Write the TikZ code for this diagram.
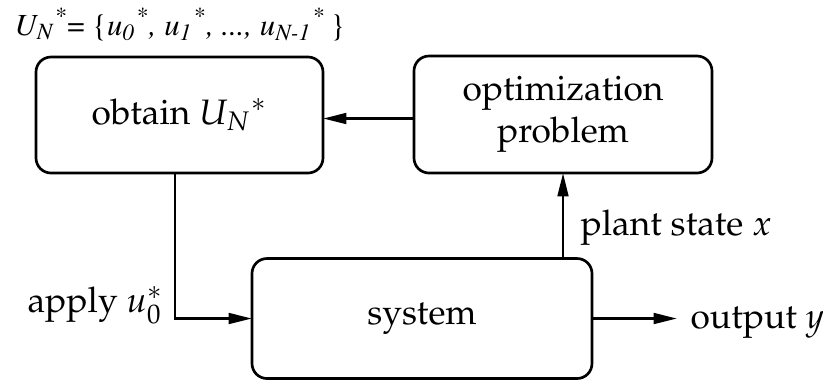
\documentclass[tikz,border=0pt]{standalone}
\usepackage[T1]{fontenc}
\usepackage{mathpazo}
\usetikzlibrary{arrows.meta}
\newcommand{\tms}{\fontfamily{ptm}\fontshape{it}\selectfont}
\newcommand{\tmu}{\fontfamily{ptm}\fontshape{n}\selectfont}
\begin{document}
\begin{tikzpicture}[x=0.3pt,y=-0.3pt,
  blk/.style={draw,line width=0.8pt,rounded corners=4.5pt,inner sep=0pt,outer sep=0pt,
    align=center,font=\fontsize{10.6}{12.6}\selectfont},
  lbl/.style={inner sep=0pt,font=\fontsize{10.6}{12.6}\selectfont},
  arr/.style={line width=0.8pt,-{Triangle[length=7pt,width=3.2pt]}}]
\useasboundingbox (0,0) rectangle (823,379);
\node[blk,minimum width=86.1pt,minimum height=34.8pt] (obt) at (179.5,115) {obtain $U_N{}^{*}$};
\node[blk,minimum width=89.4pt,minimum height=35.1pt] (opt) at (563,114.5) {optimization\\problem};
\node[blk,minimum width=102pt,minimum height=36pt] (sys) at (422,318.5) {system};
\node[lbl,anchor=base west] (top) at (14,35) {\fontsize{9.2}{12}\tms U\textsubscript{N}\textsuperscript{*}{\tmu=} {\tmu\{}u\textsubscript{0}\textsuperscript{*}, u\textsubscript{1}\textsuperscript{*}, ..., u\textsubscript{N-1}\textsuperscript{*}\,{\tmu\}}};
\node[lbl,anchor=base east] (app) at (164,312) {apply $u_0^{*}$};
\node[lbl,anchor=base west] (pst) at (580,235) {plant state $x$};
\node[lbl,anchor=base west] (out) at (690,328) {output $y$};
\coordinate (outtip) at (677,318.5);
\draw[arr] ([yshift=-1.2pt]opt.west) -- ([yshift=-1.2pt]opt.west -| obt.east);
\draw[arr] ([xshift=-1.35pt]obt.south) |- (sys.west);
\draw[arr] (sys.north -| opt.south) -- (opt.south);
\draw[arr] (sys.east) -- (outtip);
\end{tikzpicture}
\end{document}
